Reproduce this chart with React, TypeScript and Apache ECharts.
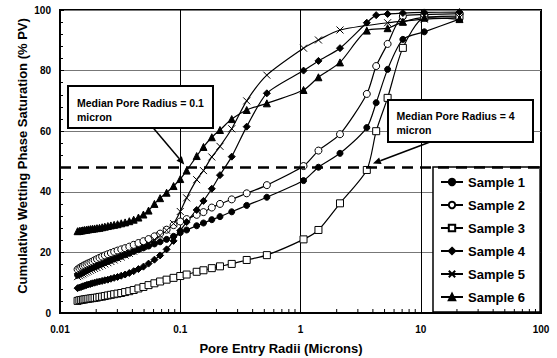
import React, { useEffect, useRef } from 'react';
import * as echarts from 'echarts';

const FONT = '"Liberation Sans", Arial, Helvetica, sans-serif';

// Pore entry radii (microns), shared by all samples
const radii = [
  0.0140, 0.0145, 0.0150, 0.0155, 0.0160, 0.0166, 0.0172, 0.0179, 0.0186, 0.0194,
  0.0203, 0.0213, 0.0224, 0.0236, 0.0250, 0.0265, 0.0282, 0.0301, 0.0323, 0.0348,
  0.0377, 0.0410, 0.0449, 0.0494, 0.0545, 0.0610, 0.0680, 0.0770, 0.0880, 0.1000,
  0.1130, 0.1370, 0.1560, 0.1830, 0.2140, 0.2680, 0.3570, 0.5250, 1.06, 1.41,
  2.13, 3.56, 4.26, 5.30, 7.10, 10.7, 21.0,
];

const sample1 = [
  12.5, 12.8, 13.1, 13.4, 13.7, 14.0, 14.3, 14.6, 14.9, 15.2,
  15.5, 15.9, 16.2, 16.6, 17.0, 17.4, 17.8, 18.2, 18.7, 19.2,
  19.7, 20.3, 20.9, 21.5, 22.1, 22.8, 23.5, 24.3, 25.3, 26.5,
  27.4, 28.8, 29.7, 30.8, 31.8, 33.4, 35.5, 38.2, 43.7, 48.1,
  52.7, 61.2, 69.4, 80.4, 90.3, 92.8, 97.0,
];
const sample2 = [
  14.4, 14.8, 15.2, 15.5, 15.8, 16.1, 16.4, 16.7, 17.0, 17.4,
  17.8, 18.2, 18.6, 19.0, 19.4, 19.8, 20.2, 20.6, 21.0, 21.4,
  21.9, 22.5, 23.1, 23.7, 24.4, 25.3, 26.2, 27.5, 29.0, 30.2,
  31.0, 32.4, 33.3, 34.8, 36.0, 37.5, 39.5, 42.2, 48.5, 53.6,
  59.0, 72.3, 81.5, 88.8, 98.0, 98.5, 98.8,
];
const sample3 = [
  4.0, 4.2, 4.3, 4.4, 4.5, 4.6, 4.7, 4.8, 4.9, 5.0,
  5.1, 5.3, 5.4, 5.6, 5.8, 6.0, 6.2, 6.4, 6.6, 6.9,
  7.2, 7.6, 8.1, 8.6, 9.2, 9.8, 10.4, 11.0, 11.6, 12.2,
  12.7, 13.6, 14.1, 14.8, 15.4, 16.2, 17.5, 19.1, 24.3, 27.4,
  36.2, 47.2, 60.0, 71.0, 87.5, 97.5, 98.0,
];
const sample4 = [
  8.2, 8.4, 8.6, 8.8, 9.0, 9.2, 9.4, 9.6, 9.8, 10.0,
  10.2, 10.4, 10.6, 10.8, 11.0, 11.3, 11.6, 11.9, 12.3, 12.7,
  13.2, 13.8, 14.5, 15.3, 16.3, 17.6, 19.0, 21.0, 23.8, 27.2,
  30.0, 34.0, 37.0, 41.0, 45.5, 51.6, 61.5, 72.5, 80.0, 83.2,
  87.4, 95.8, 98.3, 98.7, 99.0, 99.2, 99.3,
];
const sample5 = [
  12.0, 12.3, 12.6, 12.9, 13.2, 13.5, 13.8, 14.1, 14.4, 14.7,
  15.0, 15.4, 15.8, 16.2, 16.6, 17.0, 17.5, 18.0, 18.5, 19.1,
  19.7, 20.4, 21.2, 22.0, 23.0, 24.2, 25.6, 27.3, 29.5, 33.5,
  38.0, 44.0, 47.0, 51.5, 55.0, 60.8, 70.0, 78.5, 87.4, 90.1,
  93.4, null, null, 95.8, 96.3, 97.0, 97.5,
];
const sample6 = [
  27.0, 27.1, 27.2, 27.3, 27.4, 27.5, 27.6, 27.7, 27.8, 27.9,
  28.0, 28.1, 28.3, 28.5, 28.7, 28.9, 29.1, 29.3, 29.6, 29.9,
  30.3, 30.8, 31.5, 32.5, 33.8, 36.0, 37.9, 39.7, 41.9, 44.2,
  47.0, 51.8, 54.8, 58.0, 60.4, 64.0, 67.0, 69.2, 73.6, 77.8,
  82.7, 93.2, null, 94.0, 96.1, 97.5, 97.0,
];

const seriesNames = ['Sample 1', 'Sample 2', 'Sample 3', 'Sample 4', 'Sample 5', 'Sample 6'];
const xTickLabels = ['0.01', '0.1', '1', '10', '100'];
const xMinorTicks = [
  0.02, 0.03, 0.04, 0.05, 0.06, 0.07, 0.08, 0.09,
  0.2, 0.3, 0.4, 0.5, 0.6, 0.7, 0.8, 0.9,
  2, 3, 4, 5, 6, 7, 8, 9,
  20, 30, 40, 50, 60, 70, 80, 90,
];
const medianSaturation = 48;
const medianRadius1 = 0.1;
const medianRadius2 = 4;

function pairs(values: (number | null)[]) {
  const out: number[][] = [];
  values.forEach((v, i) => {
    if (v !== null) out.push([radii[i], v]);
  });
  return out;
}

export default function App() {
  const ref = useRef<HTMLDivElement>(null);

  useEffect(() => {
    const chart = echarts.init(ref.current!, null, { renderer: 'svg' });
    const lineStyle = { color: '#000', width: 1.2 };
    const filled = { color: '#000', borderColor: '#000', borderWidth: 1 };
    const open = { color: '#fff', borderColor: '#000', borderWidth: 1 };

    const mk = (name: string, values: (number | null)[], symbol: string, size: number, itemStyle: any, extra: any = {}) => ({
      name,
      type: 'line',
      data: pairs(values),
      symbol,
      symbolSize: size,
      showSymbol: true,
      smooth: 0.25,
      lineStyle,
      itemStyle,
      z: 3,
      emphasis: { disabled: true },
      ...extra,
    });

    const option: any = {
      animation: false,
      grid: {
        left: 60, right: 16, top: 10, bottom: 45,
        show: true, borderColor: '#000', borderWidth: 2, backgroundColor: '#fff',
      },
      xAxis: {
        type: 'log',
        logBase: 10,
        min: 0.01,
        max: 100,
        axisLine: { lineStyle: { color: '#000', width: 2 } },
        axisTick: { show: true, inside: true, length: 4, lineStyle: { color: '#000' } },
        axisLabel: {
          color: '#000', fontWeight: 'bold', fontSize: 10, fontFamily: FONT, margin: 11,
          formatter: (v: number) => xTickLabels[Math.round(Math.log10(v)) + 2] ?? '',
        },
        splitLine: { show: true, lineStyle: { color: '#000', width: 1 } },
      },
      yAxis: {
        type: 'value',
        min: 0,
        max: 100,
        interval: 20,
        axisLine: { show: true, lineStyle: { color: '#000', width: 2 } },
        axisTick: { show: true, inside: true, length: 4, lineStyle: { color: '#000' } },
        minorTick: { show: true, splitNumber: 5, length: 3, lineStyle: { color: '#000' } },
        axisLabel: { color: '#000', fontWeight: 'bold', fontSize: 10, fontFamily: FONT, margin: 9 },
        splitLine: { show: true, lineStyle: { color: '#777', width: 1 } },
      },
      legend: {
        data: seriesNames,
        orient: 'vertical',
        left: 433,
        top: 167,
        padding: [8, 15, 8, 7],
        itemGap: 9,
        itemWidth: 22,
        itemHeight: 8,
        backgroundColor: '#fff',
        borderColor: '#000',
        borderWidth: 1.5,
        borderRadius: 0,
        selectedMode: false,
        textStyle: { color: '#000', fontWeight: 'bold', fontSize: 13, fontFamily: FONT, lineHeight: 14 },
      },
      series: [
        mk('Sample 1', sample1, 'circle', 6, filled, {
          markLine: {
            silent: true,
            symbol: ['none', 'none'],
            label: { show: false },
            lineStyle: { color: '#000', width: 2.5, type: [11, 7] },
            data: [{ yAxis: medianSaturation }],
            z: 10,
          },
        }),
        mk('Sample 2', sample2, 'circle', 7, open),
        mk('Sample 3', sample3, 'rect', 7, open),
        mk('Sample 4', sample4, 'diamond', 7, filled),
        mk('Sample 5', sample5, 'path://M0,0L10,10M10,0L0,10', 7, { color: 'none', borderColor: '#000', borderWidth: 1 }),
        mk('Sample 6', sample6, 'triangle', 7, filled),
        {
          type: 'custom',
          name: 'minorTicks',
          silent: true,
          z: 4,
          data: xMinorTicks.map((v) => [v, 0]),
          renderItem: (_p: any, api: any) => {
            const p = api.coord([api.value(0), api.value(1)]);
            return {
              type: 'line',
              shape: { x1: p[0], y1: p[1], x2: p[0], y2: p[1] - 4 },
              style: { stroke: '#000', lineWidth: 1 },
            };
          },
        },
      ],
    };
    chart.setOption(option);

    const tip1 = chart.convertToPixel({ gridIndex: 0 }, [medianRadius1 * 1.08, medianSaturation + 1]) as number[];
    const tip2 = chart.convertToPixel({ gridIndex: 0 }, [medianRadius2, medianSaturation + 1.3]) as number[];

    const arrow = (from: number[], to: number[]) => {
      const dx = to[0] - from[0];
      const dy = to[1] - from[1];
      const len = Math.sqrt(dx * dx + dy * dy);
      const ux = dx / len, uy = dy / len;
      const L = 8, W = 3.5;
      const bx = to[0] - ux * L, by = to[1] - uy * L;
      return [
        { type: 'line', z: 100, shape: { x1: from[0], y1: from[1], x2: bx, y2: by }, style: { stroke: '#000', lineWidth: 1.5 } },
        {
          type: 'polygon', z: 100,
          shape: { points: [[to[0], to[1]], [bx - uy * W, by + ux * W], [bx + uy * W, by - ux * W]] },
          style: { fill: '#000' },
        },
      ];
    };

    const annFont = `bold 10.5px ${FONT}`;
    const titleFont = `bold 13px ${FONT}`;
    chart.setOption({
      graphic: [
        ...arrow([153.3, 128], tip1),
        ...arrow([430, 142], tip2),
        { type: 'rect', z: 100, shape: { x: 68, y: 86, width: 145, height: 42 }, style: { fill: '#fff', stroke: '#000', lineWidth: 2 } },
        {
          type: 'text', z: 101, x: 77, y: 96.3,
          style: { text: 'Median Pore Radius = 0.1\nmicron', font: annFont, fill: '#000', lineHeight: 13.5, verticalAlign: 'top', align: 'left' },
        },
        { type: 'rect', z: 100, shape: { x: 388, y: 100, width: 145, height: 42 }, style: { fill: '#fff', stroke: '#000', lineWidth: 2 } },
        {
          type: 'text', z: 101, x: 396.5, y: 109.3,
          style: { text: 'Median Pore Radius = 4\nmicron', font: annFont, fill: '#000', lineHeight: 13.5, verticalAlign: 'top', align: 'left' },
        },
        {
          type: 'text', z: 101, x: 281, y: 348,
          style: { text: 'Pore Entry Radii (Microns)', font: titleFont, fill: '#000', align: 'center', verticalAlign: 'middle' },
        },
        {
          type: 'text', z: 101, x: 22, y: 156, rotation: Math.PI / 2,
          style: { text: 'Cumulative Wetting Phase Saturation (% PV)', font: titleFont, fill: '#000', align: 'center', verticalAlign: 'middle' },
        },
      ],
    });

    return () => chart.dispose();
  }, []);

  return <div ref={ref} style={{ position: 'fixed', left: 0, top: 0, width: 557, height: 358, background: '#fff' }} />;
}
